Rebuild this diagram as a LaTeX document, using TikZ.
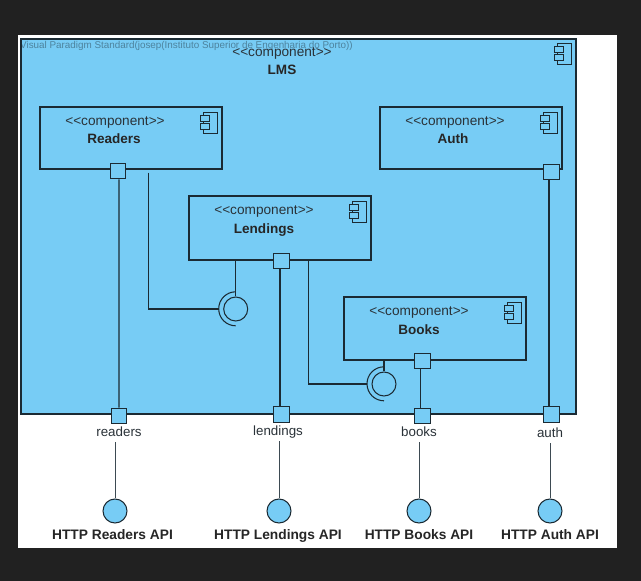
\documentclass[tikz,border=0pt]{standalone}
\usepackage{fontspec}
\setmainfont{Liberation Sans}
\definecolor{umlfill}{HTML}{77CCF5}
\definecolor{umlline}{HTML}{1B2A33}
\definecolor{pagedark}{HTML}{212121}
\definecolor{lbl}{HTML}{2A3238}
\tikzset{
  comp/.style={draw=umlline,line width=1.05pt,fill=umlfill,inner sep=0pt,minimum width=182bp,rectangle},
  port/.style={draw=umlline,line width=1.05pt,fill=umlfill,inner sep=0pt,minimum size=15.5bp,rectangle},
  wire/.style={draw=umlline,line width=1.05pt},
  thin wire/.style={draw=umlline!85!white,line width=1pt},
  ball/.style={circle,draw=umlline,line width=1.05pt,inner sep=0pt,minimum size=24bp},
  ifball/.style={ball,fill=umlfill},
  socketgap/.style={circle,inner sep=0pt,minimum size=34bp},
  stereo/.style={anchor=base,font=\fontsize{13.7}{15}\selectfont,text=lbl,inner sep=0pt},
  title/.style={anchor=base,font=\bfseries\fontsize{13.6}{15}\selectfont,text=black!85,inner sep=0pt},
  portlbl/.style={anchor=base,font=\fontsize{13.4}{15}\selectfont,text=lbl,inner sep=0pt,text height=10bp,text depth=4bp},
  apilbl/.style={anchor=base,font=\bfseries\fontsize{13.8}{15}\selectfont,text=black!85,inner sep=0pt},
  wm/.style={anchor=base west,font=\fontsize{9.9}{12}\selectfont,text=umlline,opacity=.45,inner sep=0pt},
}
\newcommand{\compicon}[2]{%
  \draw[umlline,line width=1pt,fill=umlfill] ($(#1.north east)+(-19,#2)$) rectangle ++(14,21);
  \draw[umlline,line width=1pt,fill=umlfill] ($(#1.north east)+(-22,#2+3)$) rectangle ++(9,6);
  \draw[umlline,line width=1pt,fill=umlfill] ($(#1.north east)+(-22,#2+11)$) rectangle ++(9,6);
}
\newcommand{\stereotxt}{<{}<component>{}>}
\usetikzlibrary{calc}
\begin{document}
\begin{tikzpicture}[x=1bp,y=-1bp]
\useasboundingbox (0,0) rectangle (641,581);
\fill[pagedark] (0,0) rectangle (641,581);
\fill[white] (18,35.5) rectangle (617,548);

% outer component
\node[comp,minimum width=555bp,minimum height=375bp] (lms) at (298.5,226.5) {};
\compicon{lms}{5}
\node[wm] (wmark) at (20,48.5) {Visual Paradigm Standard(josep(Instituto Superior de Engenharia do Porto))};
\node[stereo] (lmsS) at (282,57) {\stereotxt};
\node[title] (lmsT) at (282,75) {LMS};

% inner components
\node[comp,minimum height=62bp] (rd) at (131,138) {};
\compicon{rd}{6}
\node[stereo] (rdS) at (115,125.5) {\stereotxt};
\node[title] (rdT) at (114,144) {Readers};

\node[comp,minimum height=62bp] (au) at (471,138) {};
\compicon{au}{6}
\node[stereo] (auS) at (455,125.5) {\stereotxt};
\node[title] (auT) at (453,144) {Auth};

\node[comp,minimum height=64bp] (ld) at (280,228) {};
\compicon{ld}{6}
\node[stereo] (ldS) at (264,214.5) {\stereotxt};
\node[title] (ldT) at (264,233) {Lendings};

\node[comp,minimum height=63bp] (bk) at (435,328.5) {};
\compicon{bk}{6}
\node[stereo] (bkS) at (419,315.5) {\stereotxt};
\node[title] (bkT) at (419,334) {Books};

% ports
\node[port] (rp) at (118,171) {};
\node[port] (ap) at (551.5,172) {};
\node[port] (lp) at (281.5,261) {};
\node[port] (bp) at (422.5,361) {};
\node[port] (rx) at (119,416) {};
\node[port] (lx) at (281.5,414.5) {};
\node[port] (bx) at (422.5,416) {};
\node[port] (ax) at (551.5,414.5) {};

% port labels
\node[portlbl] (rl) at (119,436) {readers};
\node[portlbl] (ll) at (278,435) {lendings};
\node[portlbl] (bl) at (419,436) {books};
\node[portlbl] (al) at (550,437) {auth};

% provided interfaces
\node[ifball] (ri) at (115,511) {};
\node[ifball] (li) at (279,511) {};
\node[ifball] (bi) at (419,511) {};
\node[ifball] (ai) at (550,511) {};
\node[apilbl] (rn) at (112.5,539) {HTTP Readers API};
\node[apilbl] (ln) at (278,539) {HTTP Lendings API};
\node[apilbl] (bn) at (419,539) {HTTP Books API};
\node[apilbl] (an) at (550,539) {HTTP Auth API};

% port wires
\draw[wire] ([xshift=1]rp.south) -- (rx.north);
\draw[wire] ([xshift=-1.5]lp.south) -- ([xshift=-1.5]lx.north);
\draw[wire] ([xshift=-2]bp.south) -- ([xshift=-2]bx.north);
\draw[wire] ([xshift=-2.5]ap.south) -- ([xshift=-2.5]ax.north);

% external wires
\draw[thin wire] ([yshift=-2]rl.south -| ri.north) -- (ri.north);
\draw[thin wire] ([yshift=-2]ll.south -| li.north) -- (li.north);
\draw[thin wire] ([yshift=-2]bl.south -| bi.north) -- (bi.north);
\draw[thin wire] ([yshift=-2]al.south -| ai.north) -- (ai.north);

% assembly Readers -> Lendings
\node[ball] (ball1) at (235.7,309) {};
\node[socketgap] (sock1) at (235.7,309) {};
\draw[wire] (ball1.north) -- (ball1.north |- ld.south);
\draw[wire] ([xshift=18,yshift=-3]rd.south) |- (sock1.west);
\draw[wire] (sock1.north) arc[start angle=90,end angle=270,radius=17bp];

% assembly Lendings -> Books
\node[ball] (ball2) at (384,384) {};
\node[socketgap] (sock2) at (384,384) {};
\draw[wire] (ball2.north) -- (ball2.north |- bk.south);
\draw[wire] ([xshift=29]ld.south) |- (sock2.west);
\draw[wire] (sock2.north) arc[start angle=90,end angle=270,radius=17bp];
\end{tikzpicture}
\end{document}
